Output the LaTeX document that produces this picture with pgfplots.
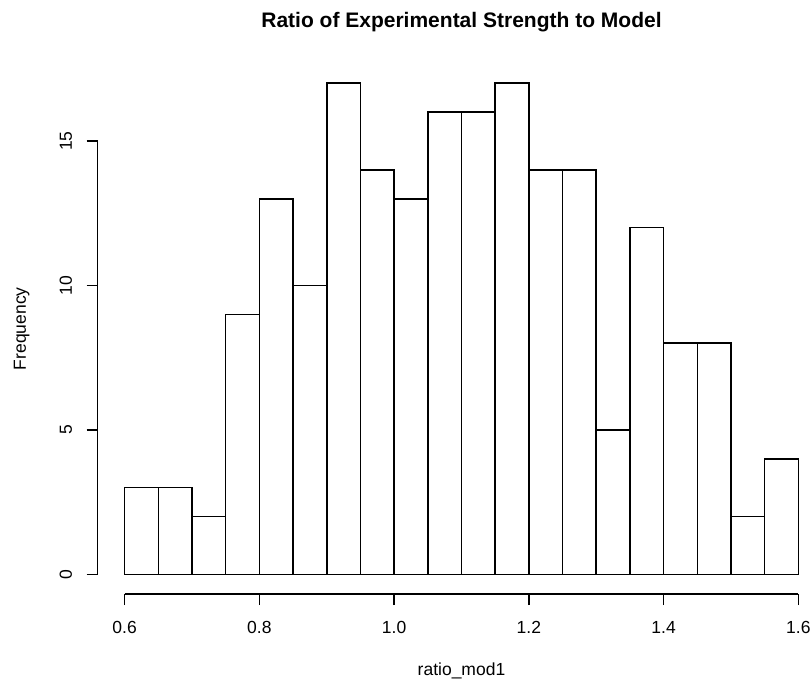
\documentclass[border=0pt]{standalone}
\usepackage{pgfplots}
\pgfplotsset{compat=1.18}
\usepackage{fontspec}
\setmainfont{Liberation Sans}

% R hist(ratio_mod1, breaks=seq(0.6,1.6,0.05)); 1 px of the reference = 0.5pt
\begin{document}
\begin{tikzpicture}
\path[use as bounding box] (-48.85pt,-44pt) rectangle (356.15pt,297pt);
\begin{axis}[
    at={(0,0)}, anchor=south west,
    scale only axis,
    width=363.8pt, height=265.2pt,
    xmin=0.56, xmax=1.64,
    ymin=-0.68, ymax=17.68,
    axis lines*=left,
    axis line style={draw=none},
    tick align=outside,
    major tick length=5.5pt,
    tick style={black, line width=0.75pt},
    xtick={0.6,0.8,1.0,1.2,1.4,1.6},
    xticklabels={0.6,0.8,1.0,1.2,1.4,1.6},
    ytick={0,5,10,15},
    minor tick num=0,
    font=\fontsize{8.75}{10}\selectfont,
    xticklabel style={anchor=base, inner sep=0pt},
    xticklabel shift=14pt,
    yticklabel style={rotate=90, anchor=base, inner sep=0pt},
    yticklabel shift=7.35pt,
    /pgf/number format/assume math mode=true,
    title={Ratio of Experimental Strength to Model},
    % every axis title already adds yshift=6pt
    title style={at={([yshift=12.3pt]axis description cs:0.5,1)}, anchor=base,
        inner sep=0pt, font=\fontsize{10.5}{12}\selectfont\bfseries},
    xlabel={ratio\_mod1},
    xlabel style={at={([yshift=-40.5pt]axis description cs:0.5,0)}, anchor=base, inner sep=0pt},
    ylabel={Frequency},
    ylabel style={at={([xshift=-35.85pt]axis description cs:0,0.5)}, anchor=base, inner sep=0pt},
    clip=false,
]
\addplot[ybar interval, fill=white, draw=black, line width=0.75pt] coordinates {
    (0.60,3) (0.65,3) (0.70,2) (0.75,9) (0.80,13) (0.85,10) (0.90,17) (0.95,14)
    (1.00,13) (1.05,16) (1.10,16) (1.15,17) (1.20,14) (1.25,14) (1.30,5) (1.35,12)
    (1.40,8) (1.45,8) (1.50,2) (1.55,4) (1.60,4)
};
\draw[line width=0.75pt] (axis cs:0.6,-0.68) -- (axis cs:1.6,-0.68);
\draw[line width=0.75pt] (axis cs:0.56,0) -- (axis cs:0.56,15);
\end{axis}
\end{tikzpicture}
\end{document}
